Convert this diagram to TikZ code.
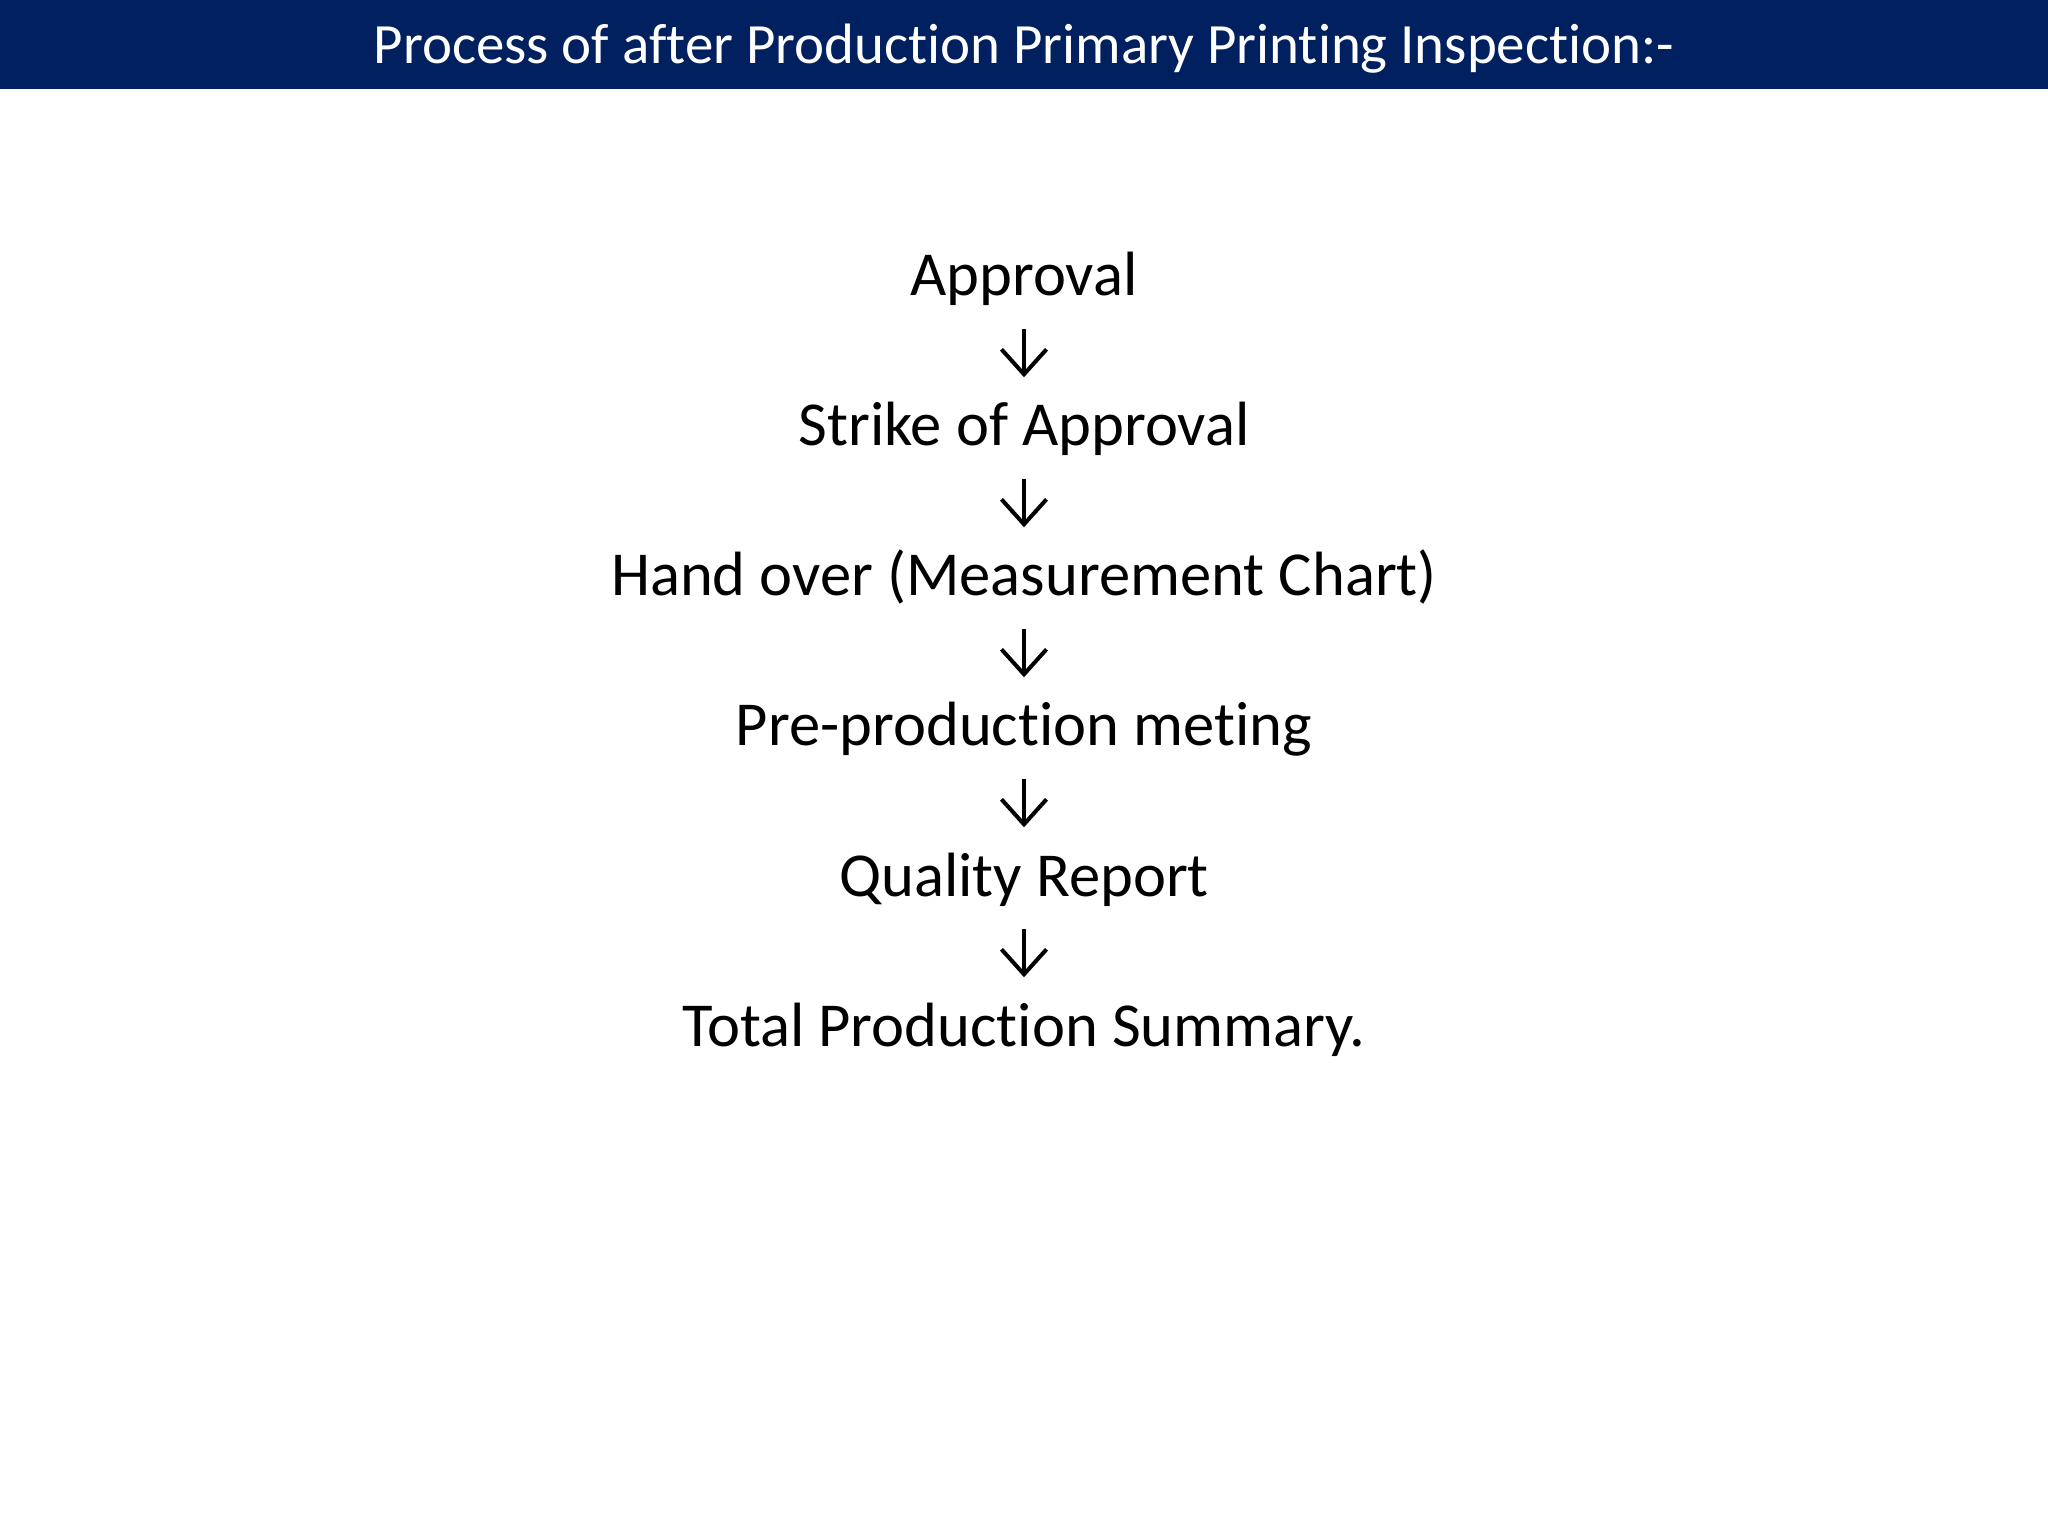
\documentclass[tikz,border=0pt]{standalone}
\usepackage{fontspec}
\setmainfont{Carlito}[Ligatures=NoCommon]
\usepackage{xcolor}
\usepackage{tikz}
\usetikzlibrary{
    positioning,
    arrows.meta
}
\definecolor{titleNavy}{RGB}{0, 32, 96}

\begin{document}
\begin{tikzpicture}[
        >={Straight Barb[length=0.25cm, width=0.45cm]},
        stepnode/.style={anchor=base, inner sep=0pt, text height=0.40cm, text depth=0pt,
            font=\fontsize{17.8}{21}\selectfont},
        flowarrow/.style={->, line width=0.04cm, shorten <=0.32cm, shorten >=0.28cm}
    ]
        \useasboundingbox (0,0) rectangle (20.48,-15.36);
        \fill[white] (0,0) rectangle (20.48,-15.36);

        % Title bar
        \fill[titleNavy] (0,0) rectangle (20.48,-0.89);
        \node[anchor=base, inner sep=0pt, text=white, font=\fontsize{16.2}{19}\selectfont]
            (title) at (10.24,-0.64) {Process of after Production Primary Printing Inspection:-};

        % Steps
        \node[stepnode] (approval) at (10.24,-2.96) {Approval};
        \node[stepnode] (strike) at (10.24,-4.46) {Strike of Approval};
        \node[stepnode] (handover) at (10.24,-5.96) {Hand over (Measurement Chart)};
        \node[stepnode] (preprod) at (10.24,-7.46) {Pre-production meting};
        \node[stepnode] (quality) at (10.24,-8.96) {Quality Report};
        \node[stepnode] (summary) at (10.24,-10.46) {Total Production Summary.};

        \draw[flowarrow] (approval) -- (strike);
        \draw[flowarrow] (strike) -- (handover);
        \draw[flowarrow] (handover) -- (preprod);
        \draw[flowarrow] (preprod) -- (quality);
        \draw[flowarrow] (quality) -- (summary);
    \end{tikzpicture}
\end{document}
